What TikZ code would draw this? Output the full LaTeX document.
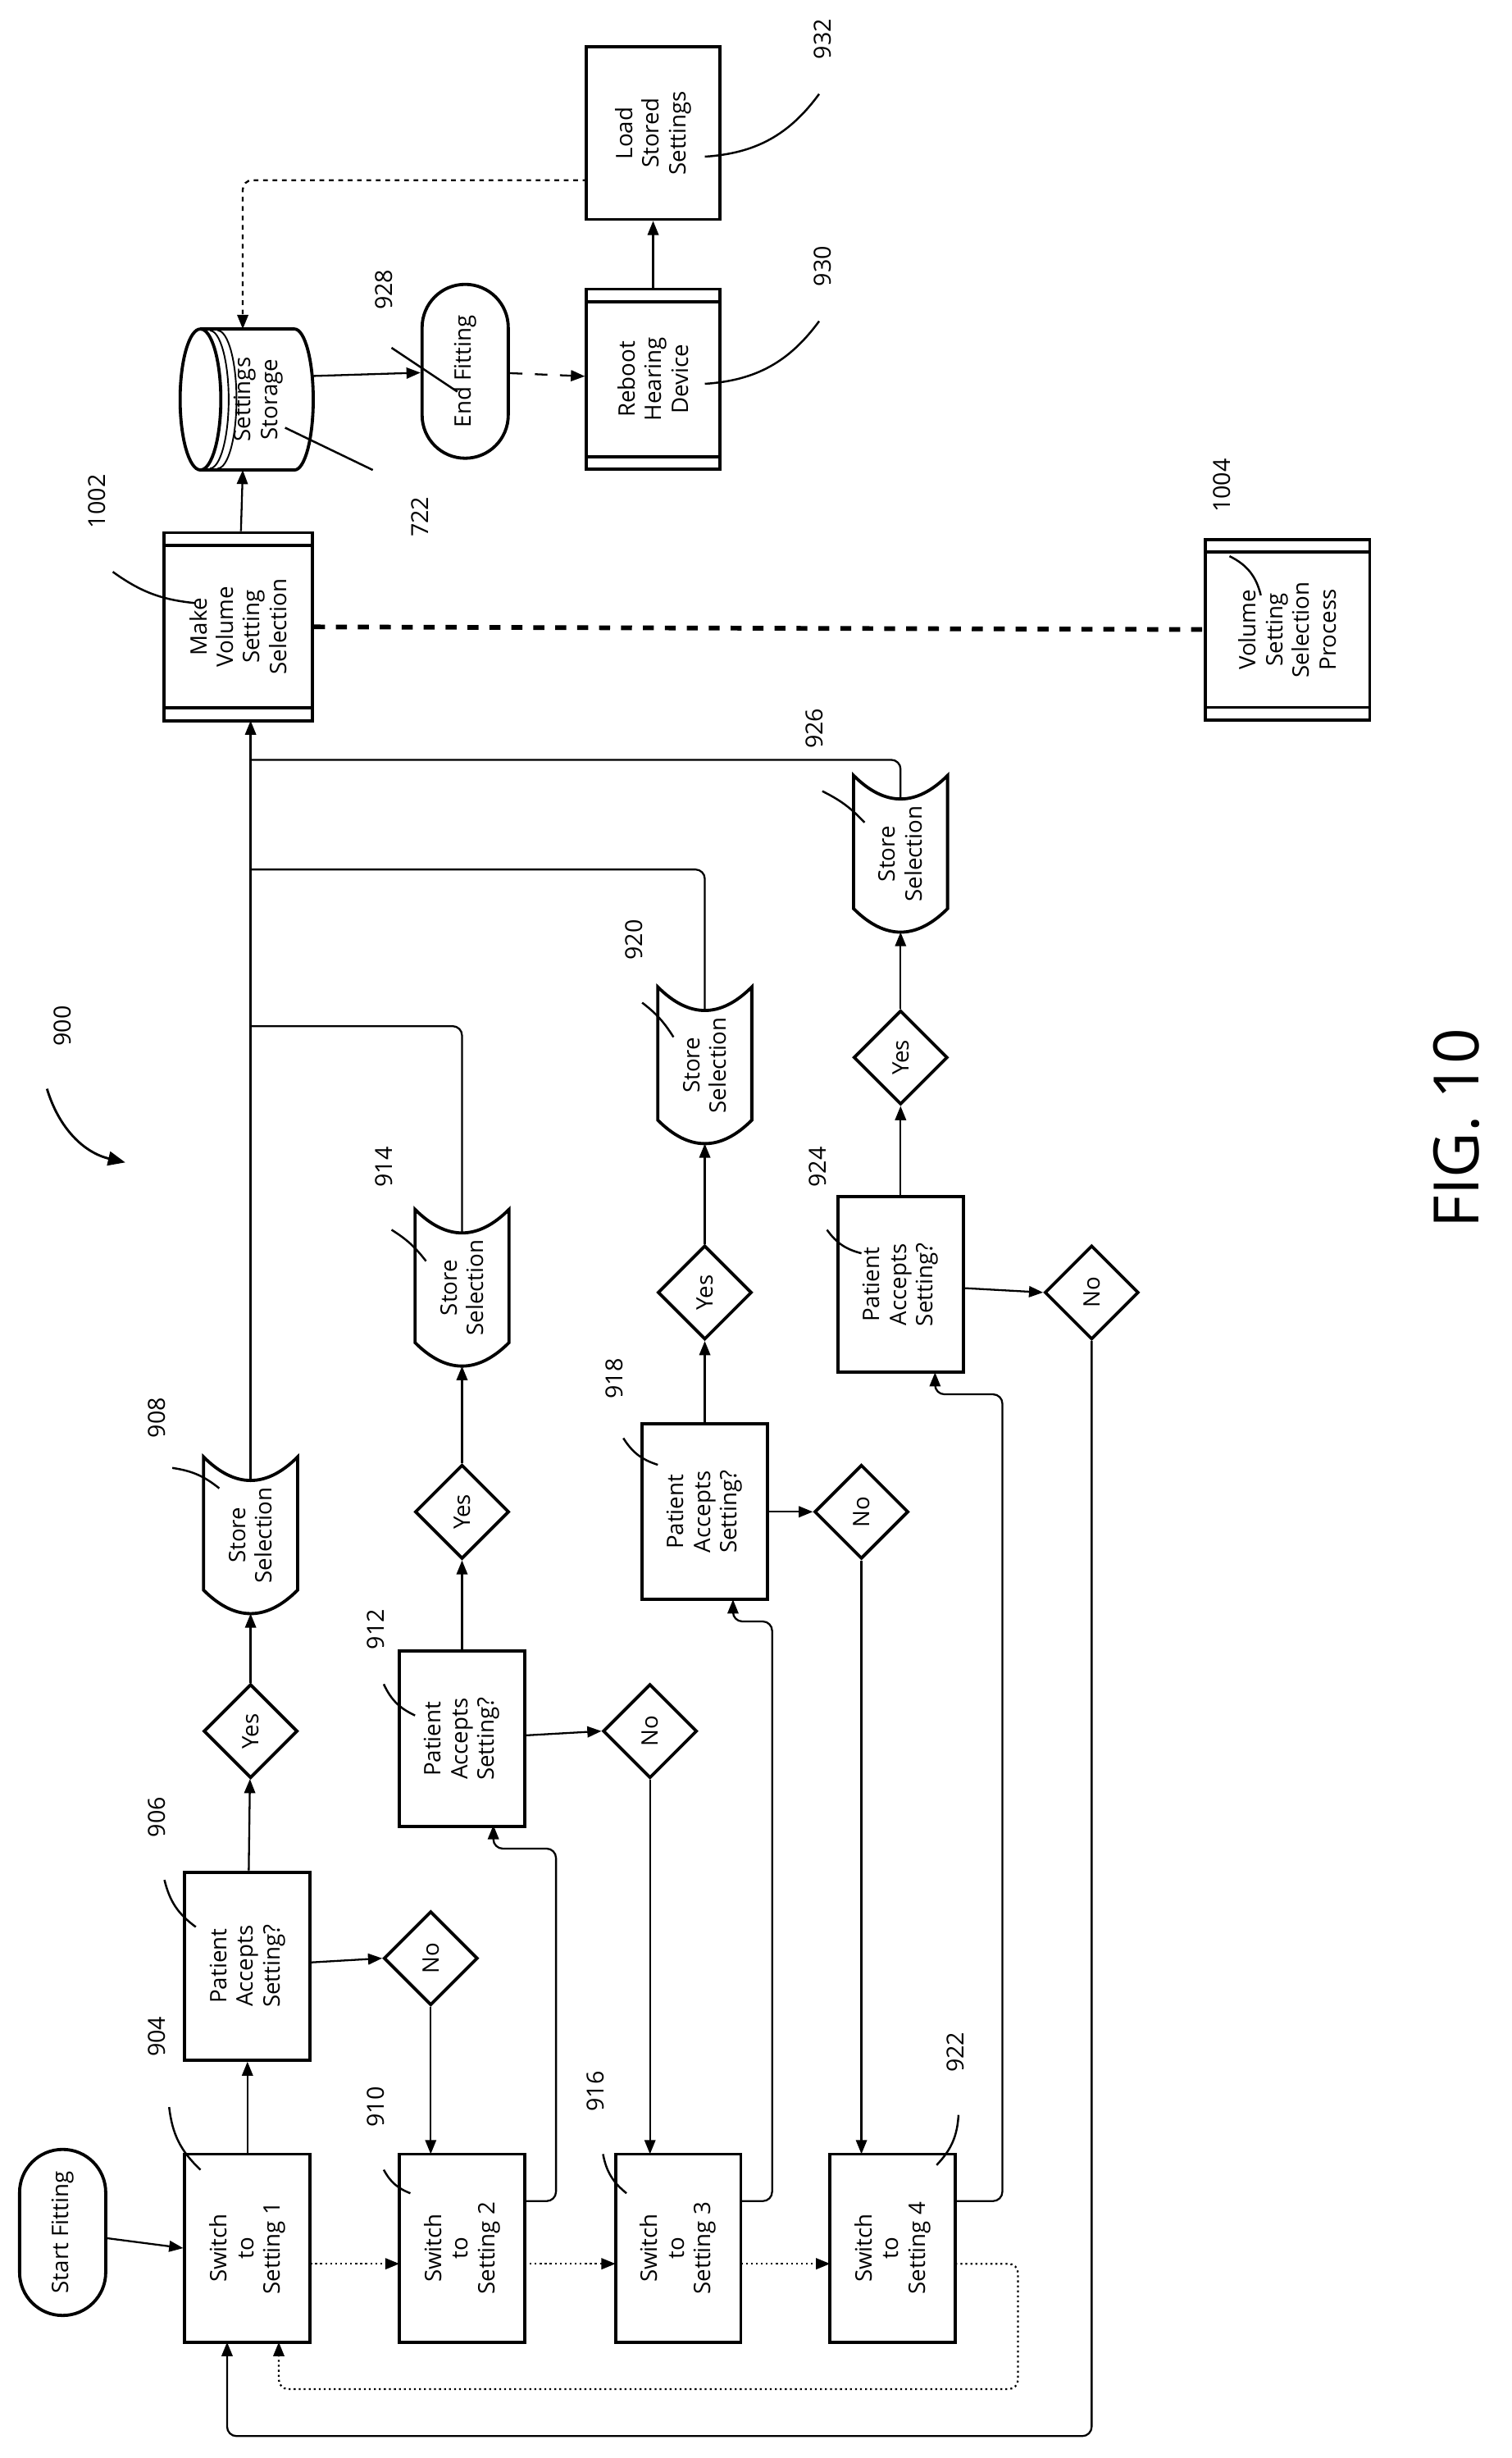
\documentclass[tikz,border=0pt]{standalone}
\usepackage{fontspec}
\setmainfont{Open Sans}
\usetikzlibrary{shapes.geometric,shapes.misc,arrows.meta,calc}
\begin{document}
\begin{tikzpicture}[x=1pt,y=1pt,
  lw/.style={line width=2pt},
  box/.style={draw,lw,rotate=90,align=center,inner sep=2pt,font=\fontsize{14.5}{17}\selectfont},
  term/.style={box,rounded rectangle},
  dia/.style={draw,lw,diamond,rotate=90,minimum size=60pt,inner sep=0pt,font=\fontsize{14.5}{17}\selectfont},
  lbl/.style={rotate=90,font=\fontsize{15}{18}\selectfont},
  ar/.style={line width=1.2pt,-{Triangle[length=9pt,width=7pt]}},
  ln/.style={line width=1.2pt},
  dotar/.style={ar,dotted},
  lead/.style={line width=1.3pt},
  rc/.style={rounded corners=6pt}]
\useasboundingbox (0,0) rectangle (965,-1569);
\newcommand{\ppbars}[4]{% name, halfw, halfh, inset
  \draw[lw] ($( #1)+(-#2,#3-#4)$) -- ($( #1)+(#2,#3-#4)$);
  \draw[lw] ($( #1)+(-#2,-#3+#4)$) -- ($( #1)+(#2,-#3+#4)$);}
\newcommand{\store}[3]{% name, cx, cy
  \draw[lw] (#2-30,-#3+50) .. controls (#2-10,-#3+30) and (#2+10,-#3+30) .. (#2+30,-#3+50)
    -- (#2+30,-#3-35) .. controls (#2+10,-#3-55) and (#2-10,-#3-55) .. (#2-30,-#3-35) -- cycle;
  \node[lbl,font=\fontsize{14.5}{17}\selectfont,align=center] (#1) at (#2,-#3) {Store\\Selection};
  \coordinate (#1-t) at (#2,-#3+35);
  \coordinate (#1-b) at (#2,-#3-50);}

% terminals
\node[term,minimum width=110pt,minimum height=55pt] (start) at (40,-1425) {Start Fitting};
\node[term,minimum width=115pt,minimum height=55pt] (end) at (297,-237) {End Fitting};

% switch boxes
\foreach \n/\x/\k in {s1/158/1,s2/295/2,s3/433/3,s4/570/4}
  \node[box,minimum width=120pt,minimum height=80pt] (\n) at (\x,-1435) {Switch\\to\\Setting \k};

% patient boxes
\node[box,minimum width=120pt,minimum height=80pt] (p1) at (158,-1255) {Patient\\Accepts\\Setting?};
\node[box,minimum width=112pt,minimum height=80pt] (p2) at (295,-1110) {Patient\\Accepts\\Setting?};
\node[box,minimum width=112pt,minimum height=80pt] (p3) at (450,-965) {Patient\\Accepts\\Setting?};
\node[box,minimum width=112pt,minimum height=80pt] (p4) at (575,-820) {Patient\\Accepts\\Setting?};

% diamonds
\node[dia] (y1) at (160,-1105) {Yes};
\node[dia] (n1) at (275,-1250) {No};
\node[dia] (y2) at (295,-965) {Yes};
\node[dia] (n2) at (415,-1105) {No};
\node[dia] (y3) at (450,-825) {Yes};
\node[dia] (n3) at (550,-965) {No};
\node[dia] (y4) at (575,-675) {Yes};
\node[dia] (n4) at (697,-825) {No};

% stores
\store{st1}{160}{980}
\store{st2}{295}{822}
\store{st3}{450}{680}
\store{st4}{575}{545}

% predefined processes
\node[box,minimum width=120pt,minimum height=95pt] (mv) at (152,-400) {Make\\Volume\\Setting\\Selection};
\ppbars{mv}{47.5}{60}{8}
\node[box,minimum width=115pt,minimum height=85pt] (rb) at (417,-242) {Reboot\\Hearing\\Device};
\ppbars{rb}{42.5}{57.5}{8}
\node[box,minimum width=110pt,minimum height=85pt] (ld) at (417,-85) {Load\\Stored\\Settings};
\node[box,minimum width=115pt,minimum height=105pt] (vp) at (822,-402) {Volume\\Setting\\Selection\\Process};
\ppbars{vp}{52.5}{57.5}{8}

% settings storage cylinder
\draw[lw] (128,-210) -- (188,-210) arc[start angle=90,end angle=-90,x radius=12,y radius=45] -- (128,-300);
\draw[lw] (128,-255) ellipse[x radius=13,y radius=45];
\draw[line width=1pt] (134,-211) arc[start angle=90,end angle=-90,x radius=12,y radius=44];
\draw[line width=1pt] (139,-211) arc[start angle=90,end angle=-90,x radius=12,y radius=44];
\node[lbl,align=center,font=\fontsize{14.5}{17}\selectfont] (ss) at (165,-255) {Settings\\Storage};
\coordinate (ss-t) at (155,-210);
\coordinate (ss-b) at (155,-300);
\coordinate (ss-r) at (200,-240);

% main flow
\draw[ar] (start) -- (s1.north);
\draw[ar] (s1) -- (p1);
\draw[ar] (p1) -- (y1);
\draw[ar] (y1) -- (st1-b);
\draw[ar] (st1-t) -- (160,-460);
\draw[ar] (p1) -- (n1.north);
\draw[ar] (n1) -- (275,-1375);
\draw[ar] (p2) -- (y2);
\draw[ar] (y2) -- (st2-b);
\draw[ln,rc] (st2-t) -- (295,-655) -- (160,-655);
\draw[ar] (p2) -- (n2.north);
\draw[ar] (n2) -- (415,-1375);
\draw[ar] (p3) -- (y3);
\draw[ar] (y3) -- (st3-b);
\draw[ln,rc] (st3-t) -- (450,-555) -- (160,-555);
\draw[ar] (p3) -- (n3.north);
\draw[ar] (n3) -- (550,-1375);
\draw[ar] (p4) -- (y4);
\draw[ar] (y4) -- (st4-b);
\draw[ln,rc] (st4-t) -- (575,-485) -- (160,-485);
\draw[ar] (p4) -- (n4.north);
\draw[ar,rc] (n4) -- (697,-1555) -- (145,-1555) -- (145,-1495);

% retry loops
\draw[ar,rc] (335,-1405) -- (355,-1405) -- (355,-1180) -- (315,-1180) -- (315,-1165);
\draw[ar,rc] (473,-1405) -- (493,-1405) -- (493,-1035) -- (468,-1035) -- (468,-1021);
\draw[ar,rc] (610,-1405) -- (640,-1405) -- (640,-890) -- (597,-890) -- (597,-876);

% dotted sequence
\draw[dotar] (198,-1445) -- (255,-1445);
\draw[dotar] (335,-1445) -- (393,-1445);
\draw[dotar] (473,-1445) -- (530,-1445);
\draw[dotar,rc] (610,-1445) -- (650,-1445) -- (650,-1525) -- (178,-1525) -- (178,-1495);

% upper part
\draw[ar] (mv) -- (ss-b);
\draw[ar] (ss-r) -- (end);
\draw[ar,dashed,dash pattern=on 8pt off 8pt] (end) -- (rb);
\draw[ar] (rb) -- (ld);
\draw[ar,dashed,rc] (375,-115) -- (155,-115) -- (ss-t);
\draw[line width=3pt,dash pattern=on 7pt off 7pt] (mv) -- (vp);

% callouts
\node[lbl] (c904) at (100,-1300) {904};
\draw[lead] (108,-1345) to[bend right=20] (128,-1385);
\node[lbl] (c906) at (100,-1160) {906};
\draw[lead] (105,-1200) to[bend right=20] (125,-1230);
\node[lbl] (c908) at (100,-905) {908};
\draw[lead] (110,-937) to[bend left=15] (140,-950);
\node[lbl] (c910) at (240,-1345) {910};
\draw[lead] (245,-1385) to[bend right=20] (262,-1400);
\node[lbl] (c912) at (240,-1040) {912};
\draw[lead] (245,-1075) to[bend right=20] (265,-1095);
\node[lbl] (c914) at (245,-745) {914};
\draw[lead] (250,-785) to[bend left=10] (272,-805);
\node[lbl] (c916) at (380,-1335) {916};
\draw[lead] (385,-1375) to[bend right=20] (400,-1400);
\node[lbl] (c918) at (392,-880) {918};
\draw[lead] (398,-918) to[bend right=20] (420,-935);
\node[lbl] (c920) at (405,-600) {920};
\draw[lead] (410,-640) to[bend left=10] (430,-662);
\node[lbl] (c922) at (610,-1310) {922};
\draw[lead] (612,-1350) to[bend left=20] (598,-1382);
\node[lbl] (c924) at (522,-745) {924};
\draw[lead] (528,-785) to[bend right=20] (550,-800);
\node[lbl] (c926) at (520,-465) {926};
\draw[lead] (525,-505) to[bend left=10] (552,-525);
\node[lbl] (c928) at (245,-185) {928};
\draw[lead] (250,-222) -- (292,-250);
\node[lbl] (c722) at (268,-330) {722};
\draw[lead] (182,-273) -- (238,-300);
\node[lbl] (c930) at (525,-170) {930};
\draw[lead] (523,-205) to[bend left=25] (450,-245);
\node[lbl] (c932) at (525,-25) {932};
\draw[lead] (523,-60) to[bend left=25] (450,-100);
\node[lbl] (c1002) at (62,-320) {1002};
\draw[lead] (72,-365) to[bend right=15] (125,-385);
\node[lbl] (c1004) at (780,-310) {1004};
\draw[lead] (785,-355) to[bend left=25] (805,-380);
\node[lbl] (c900) at (40,-655) {900};
\draw[line width=1.5pt,-{Triangle[length=11pt,width=9pt]}] (30,-695) to[bend right=30] (80,-742);

\node[rotate=90,font=\fontsize{40}{44}\selectfont] (fig) at (930,-720) {FIG. 10};
\end{tikzpicture}
\end{document}
